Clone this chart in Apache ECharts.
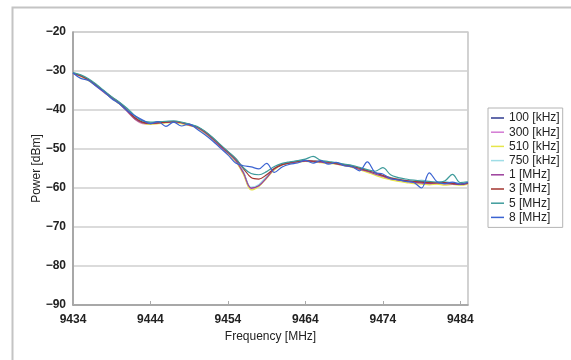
<!DOCTYPE html>
<html><head><meta charset="utf-8">
<script src="https://cdn.jsdelivr.net/npm/echarts@6/dist/echarts.min.js"></script>
<style>html,body{margin:0;padding:0;background:#fff}#c{width:571px;height:360px}</style>
</head><body><div id="c"></div>
<script>
const freqs = [9434,9435,9436,9437,9438,9439,9440,9441,9442,9443,9444,9445,9446,9447,9448,9449,9450,9451,9452,9453,9454,9455,9456,9457,9458,9459,9460,9461,9462,9463,9464,9465,9466,9467,9468,9469,9470,9471,9472,9473,9474,9475,9476,9477,9478,9479,9480,9481,9482,9483,9484,9485];
const seriesNames = ['100 [kHz]','300 [kHz]','510 [kHz]','750 [kHz]','1 [MHz]','3 [MHz]','5 [MHz]','8 [MHz]'];
const colors = ['#2f3a8f','#d37ad3','#e6e64a','#9fdde6','#9b3f9b','#a3352f','#3e9b9b','#3b63d2'];
const yTicks = [-90,-80,-70,-60,-50,-40,-30,-20];
const xTicks = [9434,9444,9454,9464,9474,9484];

const s100k = [-30.5,-31.2,-32.3,-33.7,-35.3,-36.8,-38.2,-40.1,-42.0,-43.1,-43.4,-43.3,-43.1,-43.0,-43.3,-43.8,-44.4,-45.6,-47.3,-49.2,-50.9,-52.8,-56.0,-60.1,-59.3,-57.2,-55.0,-53.9,-53.5,-53.2,-53.0,-53.1,-53.3,-53.5,-53.8,-54.1,-54.5,-55.0,-55.6,-56.2,-56.9,-57.5,-57.9,-58.2,-58.4,-58.3,-58.6,-58.7,-58.6,-58.9,-59.0,-58.6];
const s300k = [-30.6,-31.3,-32.4,-33.9,-35.5,-36.9,-38.4,-40.4,-42.4,-43.5,-43.6,-43.4,-43.2,-43.1,-43.4,-43.9,-44.5,-45.8,-47.4,-49.3,-51.0,-53.0,-56.3,-60.3,-59.5,-57.3,-55.2,-54.0,-53.6,-53.3,-53.1,-53.2,-53.4,-53.6,-53.7,-54.2,-54.6,-55.1,-55.8,-56.4,-57.1,-57.7,-58.1,-58.3,-58.6,-58.8,-58.7,-58.9,-59.1,-58.8,-59.2,-58.9];
const s510k = [-30.5,-31.4,-32.5,-33.8,-35.4,-37.0,-38.5,-40.3,-42.3,-43.4,-43.7,-43.5,-43.3,-43.2,-43.5,-44.0,-44.6,-45.9,-47.5,-49.4,-51.2,-53.2,-56.5,-60.5,-59.6,-57.5,-55.3,-54.1,-53.7,-53.4,-53.2,-53.3,-53.5,-53.7,-53.9,-54.3,-54.7,-55.3,-56.0,-56.7,-57.4,-57.9,-58.3,-58.6,-58.9,-59.0,-59.2,-59.0,-59.3,-59.1,-59.3,-59.0];
const s750k = [-30.4,-31.1,-32.2,-33.6,-35.2,-36.7,-38.1,-39.6,-41.6,-43.0,-43.3,-43.2,-43.0,-43.1,-43.2,-43.7,-44.3,-45.5,-47.1,-49.0,-50.8,-52.7,-55.8,-59.8,-59.1,-57.0,-54.9,-53.8,-53.4,-53.1,-52.9,-53.0,-53.2,-53.4,-53.6,-54.0,-54.4,-54.9,-55.5,-56.3,-56.9,-57.3,-57.6,-58.0,-58.2,-58.0,-58.4,-58.5,-58.3,-58.6,-58.7,-58.4];
const s1M = [-30.6,-31.3,-32.3,-33.8,-35.4,-36.9,-38.4,-40.3,-42.3,-43.3,-43.5,-43.3,-43.2,-43.0,-43.3,-43.9,-44.5,-45.7,-47.4,-49.3,-51.0,-52.9,-56.1,-60.0,-59.4,-57.4,-55.1,-54.0,-53.6,-53.3,-53.1,-53.2,-53.4,-53.6,-53.8,-54.2,-54.6,-55.2,-55.7,-56.4,-57.0,-57.6,-57.9,-58.3,-58.5,-58.7,-58.9,-58.6,-58.8,-59.0,-59.1,-58.8];
const s3M = [-30.5,-31.2,-32.2,-33.6,-35.2,-36.7,-38.1,-40.0,-42.0,-43.1,-43.4,-43.3,-43.1,-43.0,-43.2,-43.7,-44.3,-45.5,-47.1,-49.0,-50.7,-52.5,-55.0,-57.3,-57.7,-56.6,-55.0,-54.0,-53.5,-53.2,-53.0,-53.1,-53.2,-53.4,-53.7,-54.0,-54.4,-54.9,-55.5,-56.1,-56.8,-57.4,-57.8,-58.1,-58.3,-58.5,-58.6,-58.7,-58.6,-58.8,-59.0,-58.7];
const s5M = [-30.4,-31.0,-32.0,-33.4,-35.0,-36.6,-38.0,-39.6,-41.5,-42.8,-43.1,-43.0,-42.9,-42.8,-43.1,-43.6,-44.2,-45.4,-47.0,-48.8,-50.6,-52.4,-54.8,-56.3,-56.6,-55.8,-54.5,-53.7,-53.3,-53.0,-52.6,-51.9,-52.9,-53.2,-53.5,-53.9,-54.2,-54.7,-55.3,-55.7,-54.8,-56.6,-57.3,-57.7,-58.0,-58.2,-58.3,-58.5,-58.2,-56.5,-58.6,-58.4];
const s8M = [-30.5,-31.9,-32.4,-33.9,-35.3,-37.1,-38.4,-40.2,-41.5,-42.6,-43.5,-43.0,-44.2,-43.1,-44.1,-43.6,-44.9,-46.3,-47.9,-49.7,-51.5,-53.6,-54.3,-54.6,-55.1,-53.7,-56.0,-54.6,-53.9,-53.6,-52.9,-53.6,-53.0,-53.9,-53.4,-54.3,-54.5,-55.6,-53.3,-56.0,-56.4,-57.6,-57.9,-58.3,-58.6,-60.0,-56.1,-58.4,-58.9,-58.5,-59.0,-58.6];
const allSeries = [s100k,s300k,s510k,s750k,s1M,s3M,s5M,s8M];

const chart = echarts.init(document.getElementById('c'), null, {renderer:'canvas'});
const font = 'Liberation Sans, Arial, sans-serif';
chart.setOption({
  animation:false,
  backgroundColor:'#fff',
  graphic:[{type:'rect', shape:{x:12.5,y:7.5,width:620,height:400}, style:{fill:'none',stroke:'#c4c4c4',lineWidth:2}, silent:true, z:-1}],
  grid:{left:73, top:32, width:395, height:273, show:true, borderColor:'#b4b4b4', borderWidth:1.2, backgroundColor:'#fff'},
  legend:{
    orient:'vertical', left:488, top:108, width:71,
    data:seriesNames, icon:'rect', itemWidth:13, itemHeight:1.5, itemGap:2.2, itemTextGap:4,
    padding:[4,3,4,3], borderColor:'#b4b4b4', borderWidth:1, backgroundColor:'#fff',
    textStyle:{fontFamily:font, fontSize:12, color:'#222'}
  },
  xAxis:{
    type:'value', min:9434, max:9485, interval:10,
    name:'Frequency [MHz]', nameLocation:'middle', nameGap:26, nameMoveOverlap:false,
    nameTextStyle:{fontFamily:font, fontSize:12, color:'#222'},
    axisLine:{show:true, lineStyle:{color:'#9a9a9a', width:1.5}},
    axisTick:{show:true, inside:true, length:4, lineStyle:{color:'#aaa'}},
    axisLabel:{fontFamily:font, fontSize:12, color:'#222', margin:9, fontWeight:'bold', showMaxLabel:false,
      formatter:function(v){return xTicks.indexOf(v)>=0 ? String(v) : '';}},
    splitLine:{show:false}
  },
  yAxis:{
    type:'value', min:-90, max:-20, interval:10,
    name:'Power [dBm]', nameLocation:'middle', nameGap:30, nameMoveOverlap:false,
    nameTextStyle:{fontFamily:font, fontSize:12, color:'#222'},
    axisLine:{show:true, lineStyle:{color:'#9a9a9a', width:1.5}},
    axisTick:{show:false},
    axisLabel:{fontFamily:font, fontSize:12, color:'#222', margin:7, fontWeight:'bold',
      formatter:function(v){return yTicks.indexOf(v)>=0 ? String(v).replace('-','\u2212') : '';}},
    splitLine:{show:true, lineStyle:{color:'#cfcfcf', width:1.5}}
  },
  series: allSeries.map(function(arr,i){
    return {
      name:seriesNames[i], type:'line', smooth:0.35, showSymbol:false, symbol:'none',
      data: freqs.map(function(f,j){return [f, arr[j]];}),
      lineStyle:{color:colors[i], width:1.2}, itemStyle:{color:colors[i]}, z:2+i
    };
  })
});
</script>
</body></html>
